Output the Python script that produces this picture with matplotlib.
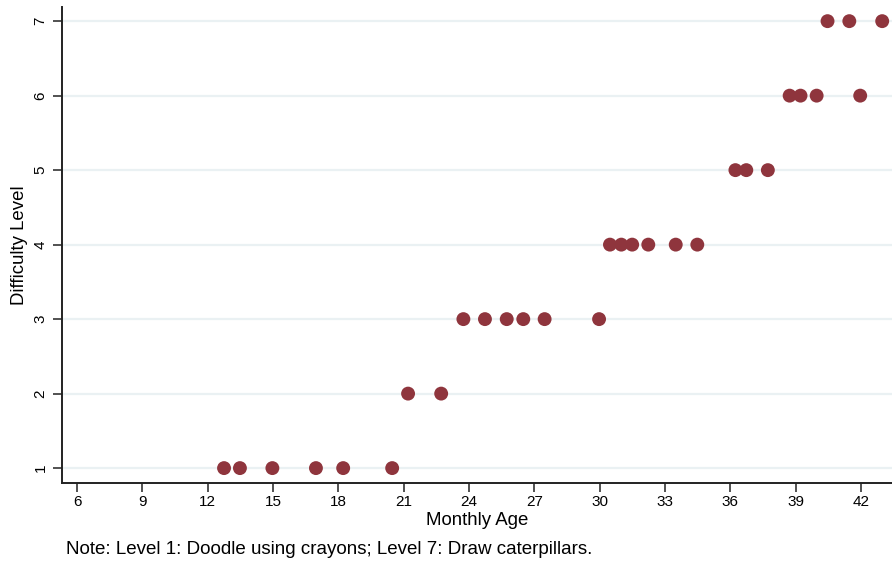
import numpy as np
import matplotlib.pyplot as plt

plt.rcParams['font.family'] = ['Liberation Sans', 'DejaVu Sans']

# monthly age and difficulty level for each observation
age = [12.75, 13.48, 14.97, 16.97, 18.22, 20.47,
       21.2, 22.72,
       23.74, 24.73, 25.73, 26.49, 27.47, 29.97,
       30.47, 30.99, 31.49, 32.23, 33.49, 34.48,
       36.23, 36.73, 37.72,
       38.72, 39.22, 39.96, 41.96,
       40.46, 41.46, 42.97]
level = [1, 1, 1, 1, 1, 1,
         2, 2,
         3, 3, 3, 3, 3, 3,
         4, 4, 4, 4, 4, 4,
         5, 5, 5,
         6, 6, 6, 6,
         7, 7, 7]
xticks = np.arange(6, 43, 3)
yticks = np.arange(1, 8)

fig = plt.figure(figsize=(8.92, 5.63), dpi=100)
ax = fig.add_axes([62 / 892, 1 - 483 / 563, 830 / 892, 476 / 563])

for y in yticks:
    ax.axhline(y, color='#eaf1f3', lw=1.6, zorder=0)
ax.scatter(age, level, s=100, color='#8f353d', edgecolors='none', zorder=3)

ax.set_xlim(5.31, 43.42)
ax.set_ylim(0.80, 7.19)
ax.set_xticks(xticks)
ax.set_yticks(yticks)
ax.tick_params(axis='x', labelsize=11, length=6.5, width=1.1, color='#222222', pad=2)
ax.tick_params(axis='y', labelsize=11, length=6.5, width=1.1, color='#222222', pad=4,
               labelrotation=90)
for lab in ax.get_yticklabels():
    lab.set_va('center')
for s in ['top', 'right']:
    ax.spines[s].set_visible(False)
for s in ['left', 'bottom']:
    ax.spines[s].set_color('#222222')
    ax.spines[s].set_linewidth(1.4)

ax.set_xlabel('Monthly Age', fontsize=13.4, labelpad=2)
ax.set_ylabel('Difficulty Level', fontsize=13.4, labelpad=4)
fig.text(66 / 892, 1 - 550 / 563, 'Note: Level 1: Doodle using crayons; Level 7: Draw caterpillars.',
         fontsize=13.5, va='center', ha='left')

fig.savefig('out.png', dpi=100)
